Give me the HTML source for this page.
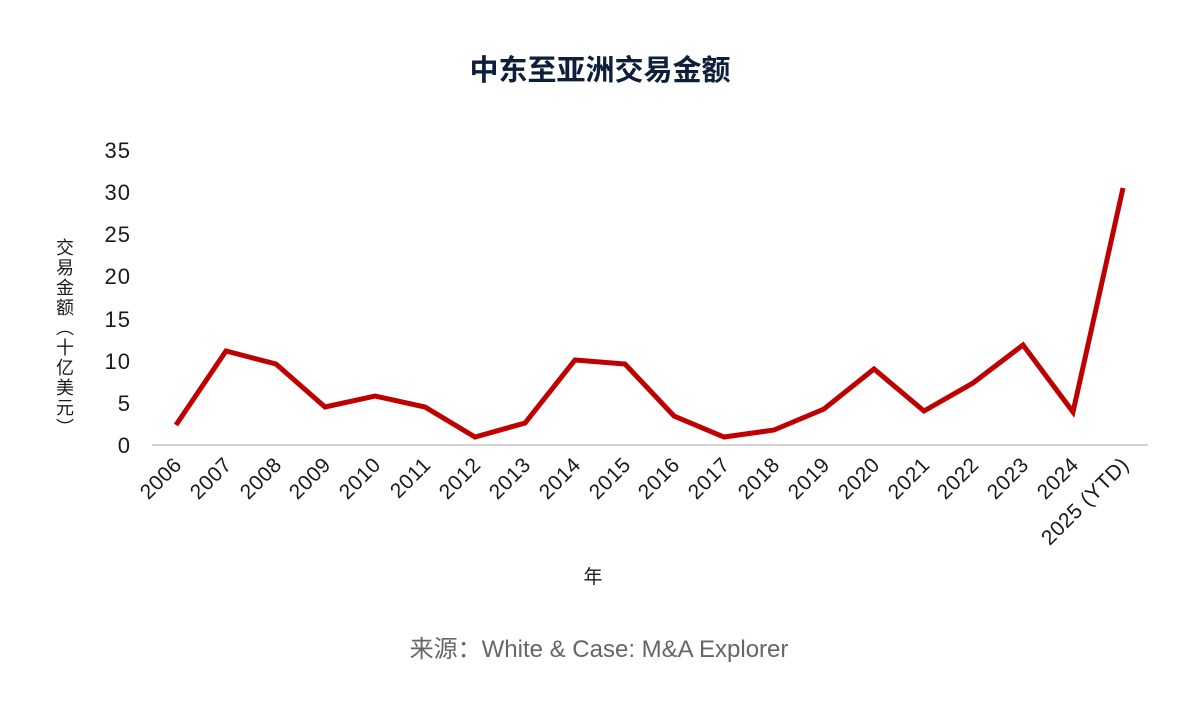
<!DOCTYPE html>
<html><head><meta charset="utf-8"><style>
html,body{margin:0;padding:0;background:#fff;}
svg text{font-family:"Liberation Sans","Noto Sans CJK SC",sans-serif;}
</style></head><body>
<svg width="1200" height="714" viewBox="0 0 1200 714" xmlns="http://www.w3.org/2000/svg">
<rect width="1200" height="714" fill="#fff"/>
<text x="600" y="80" text-anchor="middle" font-size="29" font-weight="bold" fill="#0d1f3a" style="font-family:'Noto Sans CJK SC',sans-serif">中东至亚洲交易金额</text>
<g font-size="22" fill="#1a1a1a" text-anchor="end" letter-spacing="1">
<text x="131" y="453">0</text>
<text x="131" y="411">5</text>
<text x="131" y="369">10</text>
<text x="131" y="327">15</text>
<text x="131" y="284">20</text>
<text x="131" y="242">25</text>
<text x="131" y="200">30</text>
<text x="131" y="158">35</text>
</g>
<g font-size="18" fill="#1a1a1a" text-anchor="middle" style="font-family:'Noto Sans CJK SC',sans-serif">
<text x="65" y="254">交</text><text x="65" y="274">易</text><text x="65" y="294">金</text><text x="65" y="314">额</text>
<text x="65" y="334">︵</text><text x="65" y="354">十</text><text x="65" y="374">亿</text><text x="65" y="394">美</text><text x="65" y="414">元</text><text x="65" y="434">︶</text>
</g>
<line x1="152" y1="445" x2="1148" y2="445" stroke="#d4d4d4" stroke-width="2"/>
<polyline fill="none" stroke="#c00000" stroke-width="5" stroke-linejoin="miter" points="176,425 226,351 276,364 325,407 375,396 425,407 475,437 525,423 575,360 625,364 674,416 724,437 774,430 824,409 874,369 924,411 973,383 1023,345 1073,412 1123,188"/>
<g font-size="21" fill="#1a1a1a" text-anchor="end" letter-spacing="0.5">
<text transform="translate(183,466) rotate(-45)">2006</text>
<text transform="translate(233,466) rotate(-45)">2007</text>
<text transform="translate(283,466) rotate(-45)">2008</text>
<text transform="translate(332,466) rotate(-45)">2009</text>
<text transform="translate(382,466) rotate(-45)">2010</text>
<text transform="translate(432,466) rotate(-45)">2011</text>
<text transform="translate(482,466) rotate(-45)">2012</text>
<text transform="translate(532,466) rotate(-45)">2013</text>
<text transform="translate(582,466) rotate(-45)">2014</text>
<text transform="translate(632,466) rotate(-45)">2015</text>
<text transform="translate(681,466) rotate(-45)">2016</text>
<text transform="translate(731,466) rotate(-45)">2017</text>
<text transform="translate(781,466) rotate(-45)">2018</text>
<text transform="translate(831,466) rotate(-45)">2019</text>
<text transform="translate(881,466) rotate(-45)">2020</text>
<text transform="translate(931,466) rotate(-45)">2021</text>
<text transform="translate(980,466) rotate(-45)">2022</text>
<text transform="translate(1030,466) rotate(-45)">2023</text>
<text transform="translate(1080,466) rotate(-45)">2024</text>
<text transform="translate(1130,466) rotate(-45)">2025 (YTD)</text>
</g>
<text x="593" y="583" font-size="19" text-anchor="middle" fill="#1a1a1a" style="font-family:'Noto Sans CJK SC',sans-serif">年</text>
<text x="599" y="657" font-size="24" text-anchor="middle" fill="#666">来源：White &amp; Case: M&amp;A Explorer</text>
</svg>
</body></html>
